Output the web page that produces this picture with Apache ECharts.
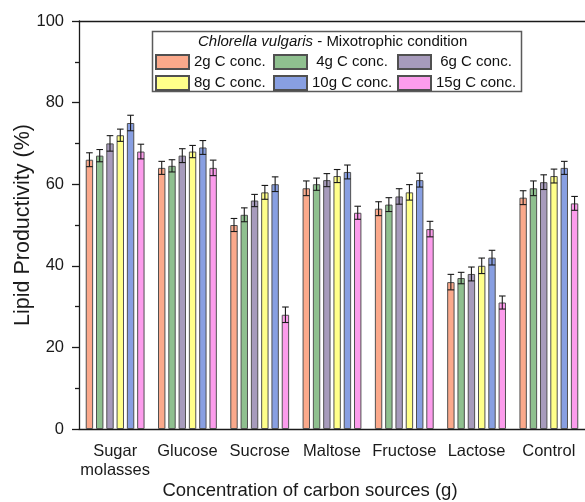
<!DOCTYPE html>
<html>
<head>
<meta charset="utf-8">
<script src="https://cdn.jsdelivr.net/npm/echarts@6/dist/echarts.min.js"></script>
<style>html,body{margin:0;padding:0;background:#fff}#c{width:585px;height:502px}</style>
</head>
<body>
<div id="c"></div>
<script>
var categories = ['Sugar\nmolasses', 'Glucose', 'Sucrose', 'Maltose', 'Fructose', 'Lactose', 'Control'];
var seriesNames = ['2g C conc.', '4g C conc.', '6g C conc.', '8g C conc.', '10g C conc.', '15g C conc.'];
var v2g  = [66, 64, 50, 59, 54, 36, 56.7];
var v4g  = [67, 64.5, 52.5, 60, 55, 37, 59];
var v6g  = [70, 67, 56, 61, 57, 38, 60.5];
var v8g  = [72, 68, 58, 62, 58, 40, 62];
var v10g = [75, 69, 60, 63, 61, 42, 64];
var v15g = [68, 64, 28, 53, 49, 31, 55.3];
var e2g  = [1.7, 1.6, 1.6, 1.8, 1.7, 1.9, 1.7];
var e4g  = [1.5, 1.5, 1.7, 1.5, 1.7, 1.4, 1.8];
var e6g  = [1.9, 1.7, 1.5, 1.6, 1.9, 1.7, 1.8];
var e8g  = [1.5, 1.5, 1.7, 1.6, 1.9, 1.9, 1.7];
var e10g = [1.9, 1.7, 1.8, 1.7, 1.7, 1.8, 1.6];
var e15g = [1.8, 1.9, 1.9, 1.6, 1.9, 1.6, 1.7];
var yTicks = [0, 20, 40, 60, 80, 100];

var values = [v2g, v4g, v6g, v8g, v10g, v15g];
var errors = [e2g, e4g, e6g, e8g, e10g, e15g];
var colors = ['#FBA98B', '#8FC08F', '#A79BBC', '#FFFF8A', '#889FE2', '#FC9CEC'];

var FONT = 'Liberation Sans, Arial, sans-serif';
var BAR_W = 7.4;
var GAP_RATIO = 0.39;
var PITCH = BAR_W * (1 + GAP_RATIO);

var series = [];
seriesNames.forEach(function (nm, i) {
  series.push({
    name: nm,
    type: 'bar',
    xAxisIndex: 0,
    data: values[i],
    barWidth: BAR_W,
    barGap: (GAP_RATIO * 100) + '%',
    itemStyle: { color: colors[i], borderColor: '#505050', borderWidth: 1 },
    z: 2
  });
});
seriesNames.forEach(function (nm, i) {
  var off = (i - (seriesNames.length - 1) / 2) * PITCH;
  series.push({
    name: 'err' + i,
    type: 'custom',
    xAxisIndex: 0,
    z: 5,
    encode: { x: 0, y: 1 },
    data: values[i].map(function (v, k) { return [k, v, errors[i][k]]; }),
    renderItem: function (params, api) {
      var k = api.value(0), v = api.value(1), e = api.value(2);
      var c = api.coord([k, v]);
      var x = c[0] + off;
      var hi = api.coord([k, v + e])[1];
      var lo = api.coord([k, v - e])[1];
      var hw = 3.3;
      var st = { stroke: '#1a1a1a', lineWidth: 1.1 };
      return {
        type: 'group',
        children: [
          { type: 'line', shape: { x1: x, y1: hi, x2: x, y2: lo }, style: st },
          { type: 'line', shape: { x1: x - hw, y1: hi, x2: x + hw, y2: hi }, style: st },
          { type: 'line', shape: { x1: x - hw, y1: lo, x2: x + hw, y2: lo }, style: st }
        ]
      };
    }
  });
});

function legendCol(left, names, pad) {
  return {
    orient: 'vertical',
    left: left,
    top: 54,
    z: 20,
    data: names,
    itemWidth: 33,
    itemHeight: 14,
    itemGap: 5,
    padding: 0,
    selectedMode: false,
    icon: 'rect',
    formatter: function (n) { return (pad && n.length < 11) ? ' ' + n : n; },
    textStyle: { fontSize: 15, fontFamily: FONT, color: '#111' }
  };
}

var chart = echarts.init(document.getElementById('c'), null, { renderer: 'canvas' });
chart.setOption({
  animation: false,
  backgroundColor: '#fff',
  textStyle: { fontFamily: FONT },
  grid: { left: 79, right: 0, top: 21, bottom: 73, containLabel: false, outerBoundsMode: 'none' },
  title: {
    text: '{i|Chlorella vulgaris} - Mixotrophic condition',
    left: 198,
    top: 34,
    padding: 0,
    z: 20,
    textStyle: {
      fontSize: 15, fontWeight: 'normal', color: '#111', fontFamily: FONT,
      rich: { i: { fontStyle: 'italic', fontSize: 15, color: '#111', fontFamily: FONT } }
    }
  },
  graphic: [{
    type: 'rect',
    shape: { x: 152.5, y: 31.5, width: 369, height: 60 },
    style: { fill: '#fff', stroke: '#5a5a5a', lineWidth: 1.5 },
    z: 1
  }],
  legend: [
    legendCol(155, [seriesNames[0], seriesNames[3]], false),
    legendCol(273, [seriesNames[1], seriesNames[4]], true),
    legendCol(397, [seriesNames[2], seriesNames[5]], true)
  ],
  xAxis: [{
    type: 'category',
    data: categories,
    position: 'bottom',
    axisLine: { lineStyle: { color: '#1a1a1a', width: 1.3 } },
    axisTick: { alignWithLabel: true, length: 7, lineStyle: { color: '#1a1a1a', width: 1.3 } },
    axisLabel: { fontSize: 16.5, color: '#1a1a1a', margin: 13, lineHeight: 19, fontFamily: FONT, interval: 0 },
    name: 'Concentration of carbon sources (g)',
    nameLocation: 'middle',
    nameGap: 52,
    nameMoveOverlap: false,
    nameTextStyle: { fontSize: 18.5, color: '#1a1a1a', fontFamily: FONT, padding: [0, 44, 0, 0] }
  }, {
    type: 'category',
    data: categories,
    position: 'bottom',
    axisLine: { show: false },
    axisTick: { length: 4, lineStyle: { color: '#1a1a1a', width: 1.3 } },
    axisLabel: { show: false }
  }, {
    type: 'category',
    data: categories,
    position: 'top',
    axisLine: { lineStyle: { color: '#1a1a1a', width: 1.3 } },
    axisTick: { show: false },
    axisLabel: { show: false }
  }],
  yAxis: {
    type: 'value',
    min: yTicks[0],
    max: yTicks[yTicks.length - 1],
    interval: 20,
    splitLine: { show: false },
    axisLine: { show: true, lineStyle: { color: '#1a1a1a', width: 1.3 } },
    axisTick: { show: true, length: 7, lineStyle: { color: '#1a1a1a', width: 1.3 } },
    minorTick: { show: true, splitNumber: 2, length: 4, lineStyle: { color: '#1a1a1a', width: 1.3 } },
    axisLabel: { fontSize: 16.5, color: '#1a1a1a', margin: 15, fontFamily: FONT },
    name: 'Lipid Productivity (%)',
    nameLocation: 'middle',
    nameGap: 45,
    nameMoveOverlap: false,
    nameTextStyle: { fontSize: 21.5, color: '#1a1a1a', fontFamily: FONT }
  },
  series: series
});
</script>
</body>
</html>
